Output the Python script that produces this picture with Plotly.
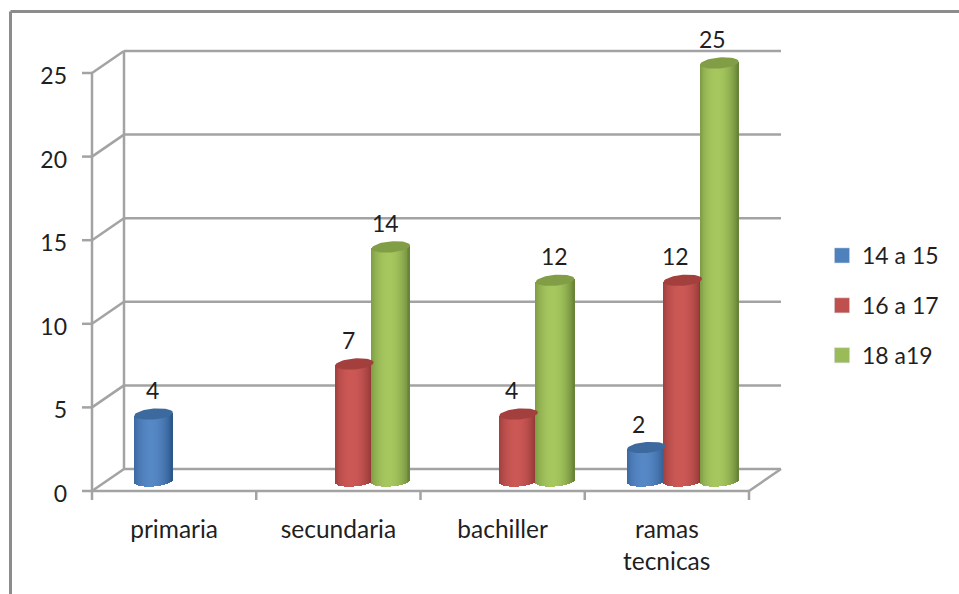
import math
import plotly.graph_objects as go

# Chart data
categories = ["primaria", "secundaria", "bachiller", "ramas"]
second_line = {3: "tecnicas"}
series_names = ["14 a 15", "16 a 17", "18 a19"]
values_14_15 = [4, None, None, 2]
values_16_17 = [None, 7, 4, 12]
values_18_19 = [None, 14, 12, 25]
y_ticks = [0, 5, 10, 15, 20, 25]

# Series colours: (shaft edge, shaft highlight, top cap, legend swatch)
palette = [
    ("#2A5486", "#5688C6", "#3C6A9E", "#4F81BD"),
    ("#823030", "#CC5855", "#A33F3C", "#C0504D"),
    ("#647F34", "#A6C75E", "#819E47", "#9BBB59"),
]

# Pixel geometry of the plot and the fake-3D box
W, H = 959, 594
X_ZERO, Y_ZERO = 92, 491
PX_PER_CAT, PX_PER_UNIT = 164.25, 16.72
PLOT_L, PLOT_R, PLOT_T, PLOT_B = 80, 790, 45, 501
DEPTH_X = 32 / PX_PER_CAT
DEPTH_Y = 22 / PX_PER_UNIT
GRID = dict(color="#A3A3A3", width=2.5)
TEXT = "#1F1F1F"
FONT = "Lato"
FS_NUM = 23
FS_CAT = 24.5

# Cylinder geometry in axis units
BAR_STEP = 36.5 / PX_PER_CAT
BAR_HALF = 19.2 / PX_PER_CAT
CAP_HALF = 5.5 / PX_PER_UNIT
CAP_TILT = 1.5 / PX_PER_UNIT
BASE = 0.6
N_STRIPS = 39


def mix(a, b, t):
    ca = [int(a[i:i + 2], 16) for i in (1, 3, 5)]
    cb = [int(b[i:i + 2], 16) for i in (1, 3, 5)]
    return "rgb(%d,%d,%d)" % tuple(round(p + (q - p) * t) for p, q in zip(ca, cb))


def seg(x0, y0, x1, y1, **line):
    return dict(type="line", layer="below", xref="x", yref="y", x0=x0, y0=y0, x1=x1, y1=y1,
                line=line or GRID)


n_cat = len(categories)
shapes = []
for t in y_ticks:
    shapes.append(seg(-10 / PX_PER_CAT, t, 0, t))
    shapes.append(seg(0, t, DEPTH_X, t + DEPTH_Y))
    shapes.append(seg(DEPTH_X, t + DEPTH_Y, n_cat + DEPTH_X, t + DEPTH_Y))
shapes.append(seg(0, 0, 0, y_ticks[-1]))
shapes.append(seg(DEPTH_X, DEPTH_Y, DEPTH_X, y_ticks[-1] + DEPTH_Y))
shapes.append(seg(0, 0, n_cat, 0))
shapes.append(seg(n_cat, 0, n_cat + DEPTH_X, DEPTH_Y))
for i in range(n_cat + 1):
    shapes.append(seg(i, 0, i, -9 / PX_PER_UNIT))

# Outer picture border along the top and left
pw, ph = PLOT_R - PLOT_L, PLOT_B - PLOT_T
px = lambda v: (v - PLOT_L) / pw
py = lambda v: (PLOT_B - v) / ph
BORDER = dict(color="#8C8C8C", width=3)
shapes.append(dict(type="line", xref="paper", yref="paper", x0=px(10.5), x1=px(W), y0=py(11.5), y1=py(11.5), line=BORDER))
shapes.append(dict(type="line", xref="paper", yref="paper", x0=px(10.5), x1=px(10.5), y0=py(11.5), y1=py(H), line=BORDER))

fig = go.Figure()
all_series = [values_14_15, values_16_17, values_18_19]

# Each cylinder is a run of one-pixel bars, shaded across its width
for s, vals in enumerate(all_series):
    edge, light, cap, _ = palette[s]
    xs, widths, bases, heights, colors = [], [], [], [], []
    for c, v in enumerate(vals):
        if v is None:
            continue
        center = c + 0.5 + DEPTH_X / 2 + (s - 1) * BAR_STEP
        for k in range(N_STRIPS):
            u = (k + 0.5) / N_STRIPS * 2 - 1
            curve = CAP_HALF * math.sqrt(1 - u * u)
            bottom = BASE - curve + CAP_TILT * u
            top = v + BASE + CAP_TILT * u
            shade = max(0.0, 1 - ((u + 0.1) / 1.1) ** 2) ** 0.85
            xs.append(center + u * BAR_HALF)
            widths.append(2 * BAR_HALF / N_STRIPS * 1.25)
            bases.append(bottom)
            heights.append(top - bottom)
            colors.append(mix(edge, light, shade))
    fig.add_trace(go.Bar(x=xs, y=heights, base=bases, width=widths,
                         marker=dict(color=colors, line=dict(width=0)),
                         showlegend=False, hoverinfo="skip"))

# Top caps
for s, vals in enumerate(all_series):
    for c, v in enumerate(vals):
        if v is None:
            continue
        center = c + 0.5 + DEPTH_X / 2 + (s - 1) * BAR_STEP
        angles = [2 * math.pi * a / 48 for a in range(49)]
        cx = [center + BAR_HALF * math.cos(a) for a in angles]
        cy = [v + BASE + CAP_HALF * math.sin(a) + CAP_TILT * math.cos(a) for a in angles]
        fig.add_trace(go.Scatter(x=cx, y=cy, mode="lines", fill="toself", fillcolor=palette[s][2],
                                 line=dict(width=0), showlegend=False, hoverinfo="skip"))

# Legend entries
for s, name in enumerate(series_names):
    fig.add_trace(go.Scatter(x=[None], y=[None], mode="markers", name=name, legendgroup=name,
                             marker=dict(symbol="square", size=15, color=palette[s][3],
                                         line=dict(color="#C9D3E0", width=0.5))))

# Value labels, nudged in pixels off the cylinder centres
label_nudge_x = [[-1, 0, 0, -8], [0, -6, -7, -7], [0, -5, -1, -7]]
annotations = []
for s, vals in enumerate(all_series):
    for c, v in enumerate(vals):
        if v is None:
            continue
        annotations.append(dict(x=c + 0.5 + DEPTH_X / 2 + (s - 1) * BAR_STEP, y=v + BASE, text=str(v),
                                showarrow=False, xshift=label_nudge_x[s][c], yshift=24,
                                font=dict(family=FONT, size=FS_NUM, color=TEXT)))
for c, text in second_line.items():
    annotations.append(dict(x=c + 0.5, y=0, text=text, showarrow=False, yshift=-69,
                            font=dict(family=FONT, size=FS_CAT, color=TEXT)))

fig.update_layout(
    width=W, height=H,
    margin=dict(l=PLOT_L, r=W - PLOT_R, t=PLOT_T, b=H - PLOT_B, pad=0),
    paper_bgcolor="white", plot_bgcolor="white",
    barmode="overlay", bargap=0,
    shapes=shapes, annotations=annotations,
    font=dict(family=FONT, size=FS_NUM, color=TEXT),
    xaxis=dict(range=[(PLOT_L - X_ZERO) / PX_PER_CAT, (PLOT_R - X_ZERO) / PX_PER_CAT],
               tickmode="array", tickvals=[c + 0.5 for c in range(n_cat)], ticktext=categories,
               showgrid=False, zeroline=False, showline=False, ticks="", ticklabelstandoff=11,
               tickfont=dict(family=FONT, size=FS_CAT, color=TEXT), fixedrange=True),
    yaxis=dict(range=[(Y_ZERO - PLOT_B) / PX_PER_UNIT, (Y_ZERO - PLOT_T) / PX_PER_UNIT],
               tickmode="array", tickvals=y_ticks,
               showgrid=False, zeroline=False, showline=False, ticks="", ticklabelstandoff=12,
               ticklabelshift=3,
               tickfont=dict(family=FONT, size=FS_NUM, color=TEXT), fixedrange=True),
    legend=dict(x=px(822), y=py(234), xanchor="left", yanchor="top", tracegroupgap=17,
                font=dict(family=FONT, size=FS_NUM, color=TEXT), bgcolor="rgba(0,0,0,0)", itemsizing="trace"),
)

fig.write_html("out.html", config=dict(displayModeBar=False))
